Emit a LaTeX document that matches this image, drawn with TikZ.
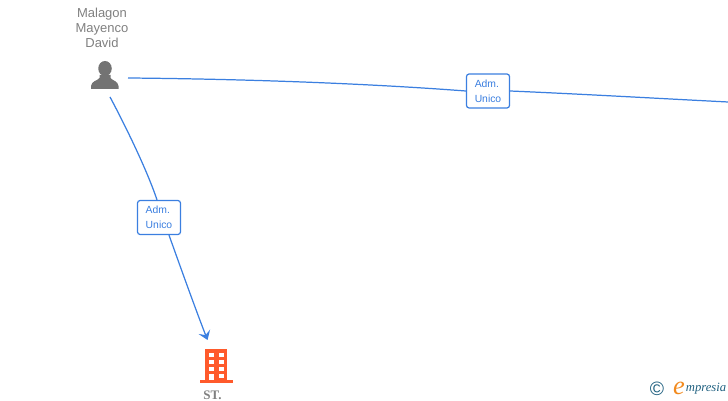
\documentclass[tikz,border=0pt]{standalone}
\usepackage{fontspec}
\setmainfont{Liberation Sans}
\newfontfamily\serifface{Liberation Serif}
\usepackage{xcolor}
\usetikzlibrary{arrows.meta}
\definecolor{linkblue}{HTML}{3B7FE0}
\definecolor{greytext}{HTML}{808080}
\definecolor{iconorange}{HTML}{FF5A2B}
\definecolor{logoteal}{HTML}{1F6080}
\definecolor{logoorange}{HTML}{F28A1E}
\tikzset{
  link/.style={draw=linkblue, line width=0.7pt},
  admbox/.style={draw=linkblue, line width=0.7pt, fill=white, rounded corners=1.5pt, align=left,
    minimum width=0.86cm, minimum height=0.68cm, inner sep=0pt, text=linkblue,
    font=\fontsize{5.9}{8.5}\selectfont},
  namelabel/.style={align=center, text=greytext, inner sep=0pt, font=\fontsize{7.4}{8.5}\selectfont},
}
\begin{document}
\begin{tikzpicture}[>={Stealth[length=5pt,width=7pt,inset=2pt]}]
    \useasboundingbox (0,0) rectangle (14.56,8);
    % person
    \node[namelabel] (name) at (2.04,7.44) {Malagon\\Mayenco\\David};
    \node[inner sep=0pt, minimum width=0.56cm, minimum height=0.54cm] (person) at (2.10,6.48) {};
    \fill[greytext!90!black] (2.10,6.63) ellipse (0.135 and 0.15);
    \fill[greytext!90!black] (1.99,6.50) -- (1.99,6.44) .. controls (1.94,6.38) and (1.83,6.38) .. (1.82,6.28)
      -- (1.82,6.22) -- (2.37,6.22) -- (2.37,6.28) .. controls (2.36,6.38) and (2.26,6.38) .. (2.21,6.44) -- (2.21,6.50) -- cycle;
    % building
    \node[inner sep=0pt, minimum width=0.66cm, minimum height=0.68cm] (office) at (4.33,0.67) {};
    \fill[iconorange] (4.10,0.38) rectangle (4.54,1.02);
    \fill[iconorange] (4.00,0.34) rectangle (4.66,0.40);
    \foreach \y in {0.86,0.72,0.58}{
      \fill[white] (4.18,\y) rectangle +(0.10,0.08);
      \fill[white] (4.37,\y) rectangle +(0.11,0.08);
    }
    \fill[white] (4.18,0.40) rectangle +(0.10,0.12);
    \fill[white] (4.37,0.44) rectangle +(0.11,0.08);
    \node[inner sep=0pt, text=greytext, font=\serifface\bfseries\fontsize{7.4}{8}\selectfont] (st) at (4.25,0.10) {ST.};
    % labels on the links
    \node[admbox] (admright) at (9.76,6.18) {Adm.\\Unico};
    \node[admbox] (admdown) at (3.18,3.65) {Adm.\\Unico};
    \coordinate (exit) at (14.56,5.96);
    \coordinate (personeast) at (2.56,6.44);
    \coordinate (personsouth) at (2.20,6.06);
    \coordinate (officetop) at (4.15,1.20);
    % links
    \draw[link] (personeast) .. controls (4.80,6.42) and (7.20,6.34) .. (admright.west);
    \draw[link] (admright.east) .. controls (11.60,6.12) and (13.00,6.04) .. (exit);
    \draw[link] (personsouth) .. controls (2.50,5.50) and (2.94,4.60) .. ([xshift=-0.4mm]admdown.north);
    \draw[link,->] ([xshift=2mm]admdown.south) .. controls (3.63,2.60) and (3.88,1.90) .. (officetop);
    % logo
    \node[inner sep=0pt, text=logoteal, font=\fontsize{11}{11}\selectfont] (copyr) at (13.14,0.23) {\char"00A9};
    \node[inner sep=0pt, text=logoorange, font=\serifface\itshape\fontsize{15}{15}\selectfont] (logoe) at (13.58,0.24) {e};
    \node[inner sep=0pt, anchor=west, text=logoteal, font=\serifface\itshape\fontsize{7.2}{8}\selectfont] (logo) at (13.71,0.22) {mpresia};
  \end{tikzpicture}
\end{document}
